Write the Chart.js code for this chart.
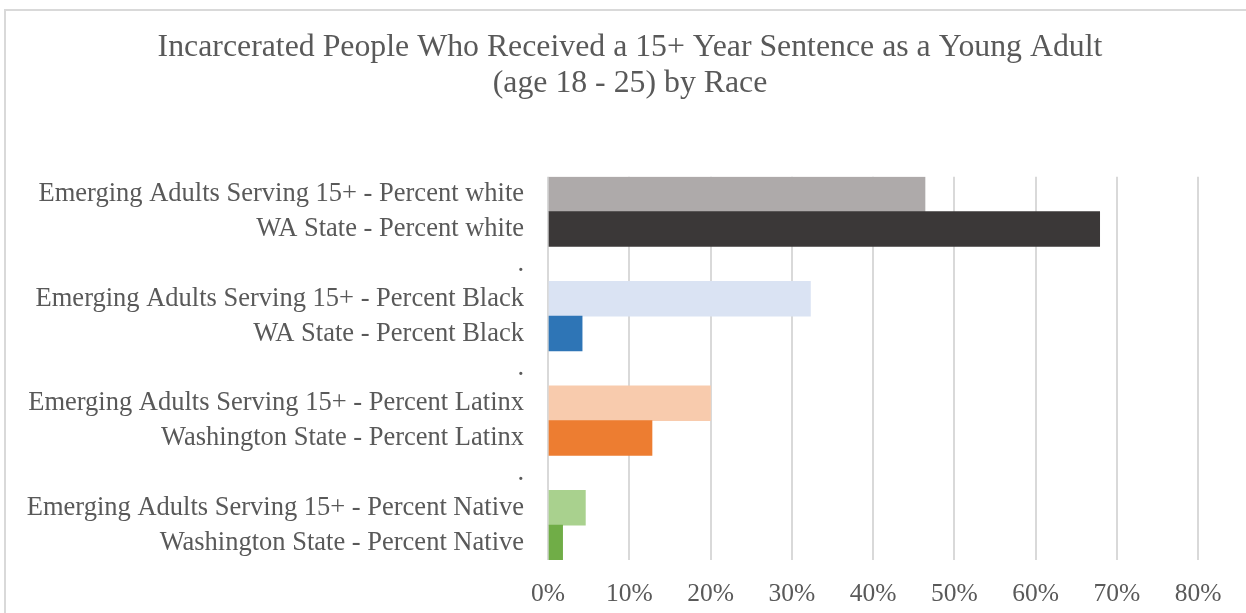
<!DOCTYPE html>
<html>
<head>
<meta charset="utf-8">
<script src="https://cdn.jsdelivr.net/npm/chart.js@4"></script>
<style>
    html, body { margin: 0; background: #ffffff; overflow: hidden; width: 1246px; height: 613px; }
    #frame {
        position: absolute; left: 4px; top: 9px; width: 1242px; height: 604px;
        border-left: 2px solid #d9d9d9; border-top: 2px solid #d9d9d9;
        box-sizing: border-box;
    }
    #wrap { position: absolute; left: 0; top: 0; width: 1246px; height: 613px; }
</style>
</head>
<body>
<div id="frame"></div>
<div id="wrap"><canvas id="myChart"></canvas></div>
<script>

// Bar labels, top to bottom ("." rows are spacers between groups)
var barLabels = [
    'Emerging Adults Serving 15+ - Percent white',
    'WA State - Percent white',
    '.',
    'Emerging Adults Serving 15+ - Percent Black',
    'WA State - Percent Black',
    '.',
    'Emerging Adults Serving 15+ - Percent Latinx',
    'Washington State - Percent Latinx',
    '.',
    'Emerging Adults Serving 15+ - Percent Native',
    'Washington State - Percent Native'
];

// Share of people, as fractions
var percentValues = [0.464, 0.679, null, 0.323, 0.042, null, 0.200, 0.128, null, 0.046, 0.018];

var barColors = ['#aeaaaa', '#3b3838', null, '#dae3f3', '#2e75b6', null, '#f8cbad', '#ed7d31', null, '#a9d18e', '#70ad47'];

var xTicks = [0, 0.1, 0.2, 0.3, 0.4, 0.5, 0.6, 0.7, 0.8];

var chartTitle = [
    'Incarcerated People Who Received a 15+ Year Sentence as a Young Adult',
    '(age 18 - 25) by Race'
];

var textGrey = '#595959';
var fontName = "'Liberation Serif', 'Times New Roman', serif";

function renderChart() {
    var ctx = document.getElementById('myChart').getContext('2d');
    var myChart = new Chart(ctx, {
        type: 'bar',
        data: {
            labels: barLabels,
            datasets: [
                {
                    data: percentValues,
                    backgroundColor: barColors,
                    borderWidth: 0,
                    barPercentage: 1.0,
                    categoryPercentage: 1.0
                }
            ]
        },
        options: {
            indexAxis: 'y',
            responsive: true,
            maintainAspectRatio: false,
            animation: false,
            layout: {
                padding: { left: 20, right: 6, top: 10, bottom: 6 }
            },
            plugins: {
                legend: { display: false },
                tooltip: { enabled: false },
                title: {
                    display: true,
                    text: chartTitle,
                    color: textGrey,
                    font: { family: fontName, size: 31.8, weight: 'normal', lineHeight: 1.13 },
                    padding: { top: 20, bottom: 75 }
                }
            },
            scales: {
                x: {
                    min: 0,
                    max: 0.8,
                    afterBuildTicks: function (scale) {
                        scale.ticks = xTicks.map(function (v) { return { value: v }; });
                    },
                    afterFit: function (scale) { scale.height = 47; },
                    grid: {
                        color: '#d9d9d9',
                        lineWidth: 2,
                        drawTicks: false
                    },
                    border: { display: false },
                    ticks: {
                        color: textGrey,
                        padding: 19,
                        font: { family: fontName, size: 25.5 },
                        callback: function (value) { return Math.round(value * 100) + '%'; }
                    }
                },
                y: {
                    grid: { display: false },
                    border: { display: false },
                    afterFit: function (scale) { scale.width = 528; },
                    ticks: {
                        color: textGrey,
                        padding: 16,
                        autoSkip: false,
                        font: { family: fontName, size: 26.5 }
                    }
                },
                // empty strip on the right so the plot ends at the 80% line
                yRight: {
                    type: 'category',
                    position: 'right',
                    grid: { display: false },
                    border: { display: false },
                    ticks: { display: false },
                    afterFit: function (scale) { scale.width = 42; }
                }
            }
        }
    });
}

renderChart();
</script>
</body>
</html>
